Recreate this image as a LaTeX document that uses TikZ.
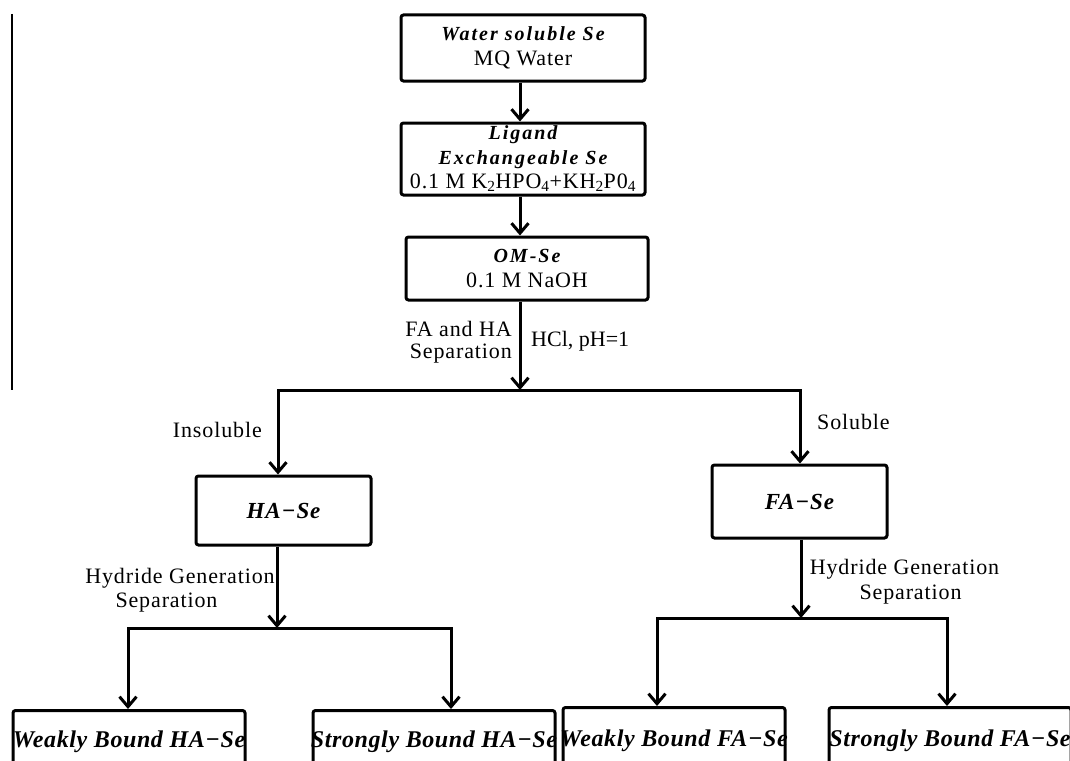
\documentclass[tikz,border=0pt]{standalone}
\usepackage{fontspec}
\setmainfont{Liberation Serif}
\newfontfamily\rmsp[LetterSpace=4,WordSpace=1.5]{Liberation Serif}
\newfontfamily\rmwide[LetterSpace=4,WordSpace=1.3]{Liberation Serif}
\newfontfamily\bisp[LetterSpace=10]{Liberation Serif}
\newfontfamily\bimid[LetterSpace=4]{Liberation Serif}
\newfontfamily\bilow[LetterSpace=2.5]{Liberation Serif}
\usetikzlibrary{arrows.meta}
\begin{document}
\begin{tikzpicture}[x=1pt,y=-1pt,
  box/.style={draw, line width=3pt, rounded corners=2.5pt, inner sep=0pt, align=center},
  arr/.style={line width=3pt, -{Straight Barb[length=10pt,width=17pt]}},
  lbl/.style={inner sep=0pt, font=\rmsp\fontsize{22}{24}\selectfont},
  leaf/.style={box, anchor=north, inner xsep=0pt, inner ysep=20pt, text depth=60pt,
    font=\bilow\bfseries\itshape\fontsize{24}{28}\selectfont}
]
\clip (0,0) rectangle (1070,760);
% stray rule at the left
\coordinate (r1) at (11.5,14);
\coordinate (r2) at (11.5,390);
\draw[line width=2pt] (r1) -- (r2);

\node[box, minimum width=244pt, minimum height=66pt, font=\fontsize{22}{25}\selectfont] (ws) at (523,48)
  {{\bisp\bfseries\itshape\fontsize{20}{25}\selectfont Water soluble Se}\\{\rmsp MQ Water}};
\node[box, minimum width=244pt, minimum height=72pt, font=\fontsize{22}{24.5}\selectfont] (lig) at (523,159)
  {{\bisp\bfseries\itshape\fontsize{20}{24.5}\selectfont Ligand}\\{\bisp\bfseries\itshape\fontsize{20}{24.5}\selectfont Exchangeable Se}\\{\rmwide 0.1 M K\textsubscript{2}HPO\textsubscript{4}+KH\textsubscript{2}P0\textsubscript{4}}};
\node[box, minimum width=242pt, minimum height=63pt, font=\fontsize{22}{25}\selectfont] (om) at (527,268.5)
  {{\bisp\bfseries\itshape\fontsize{20}{25}\selectfont OM-Se}\\{\rmsp 0.1 M NaOH}};
\node[box, minimum width=175pt, minimum height=69pt, font=\bimid\bfseries\itshape\fontsize{23}{25}\selectfont] (ha) at (283.5,510.5) {HA−Se};
\node[box, minimum width=175pt, minimum height=73pt, font=\bimid\bfseries\itshape\fontsize{23}{25}\selectfont] (fa) at (799.5,501.5) {FA−Se};

\node[leaf, minimum width=232pt, text height=17pt] (whs) at (129,709) {\makebox[0pt]{Weakly Bound HA−Se}};
\node[leaf, minimum width=242pt, text height=17pt] (shs) at (434,709) {\makebox[0pt]{Strongly Bound HA−Se}};
\node[leaf, minimum width=222pt, text height=19pt] (wfs) at (674,706) {\makebox[0pt]{Weakly Bound FA−Se}};
\node[leaf, minimum width=242pt, text height=19pt] (sfs) at (950,706) {\makebox[0pt]{Strongly Bound FA−Se}};

% connectors
\coordinate (ax) at (520,0);
\draw[arr] (ws.south -| ax) -- (lig.north -| ax);
\draw[arr] (lig.south -| ax) -- (om.north -| ax);
\coordinate (s1) at (520,390);
\coordinate (hL) at (278,390);
\coordinate (hR) at (800,390);
\draw[arr] (om.south -| ax) -- (s1);
\draw[arr] (hR) -- (hL) -- (hL |- ha.north);
\draw[arr] (hL) -- (hR) -- (hR |- fa.north);

\coordinate (h2) at (277,628);
\coordinate (h2L) at (128,628);
\coordinate (h2R) at (451,628);
\draw[arr] (ha.south -| h2) -- (h2);
\draw[arr] (h2R) -- (h2L) -- (h2L |- whs.north);
\draw[arr] (h2L) -- (h2R) -- (h2R |- shs.north);

\coordinate (f2) at (801,618);
\coordinate (f2L) at (657,618);
\coordinate (f2R) at (947,618);
\draw[arr] (fa.south -| f2) -- (f2);
\draw[arr] (f2R) -- (f2L) -- (f2L |- wfs.north);
\draw[arr] (f2L) -- (f2R) -- (f2R |- sfs.north);

% labels
\node[lbl, anchor=base east] (l1a) at (512,336) {FA and HA};
\node[lbl, anchor=base east] (l1b) at (512,358) {Separation};
\node[lbl, anchor=base west, font=\rmfamily\fontsize{22}{24}\selectfont] (l2) at (531,346) {HCl, pH=1};
\node[lbl, anchor=base east] (l3) at (262,437) {Insoluble};
\node[lbl, anchor=base west] (l4) at (817,429) {Soluble};
\node[lbl, anchor=base] (l5a) at (180,583) {Hydride Generation};
\node[lbl, anchor=base] (l5b) at (166.5,607) {Separation};
\node[lbl, anchor=base] (l6a) at (904.5,574) {Hydride Generation};
\node[lbl, anchor=base] (l6b) at (910.5,599) {Separation};
\end{tikzpicture}
\end{document}
